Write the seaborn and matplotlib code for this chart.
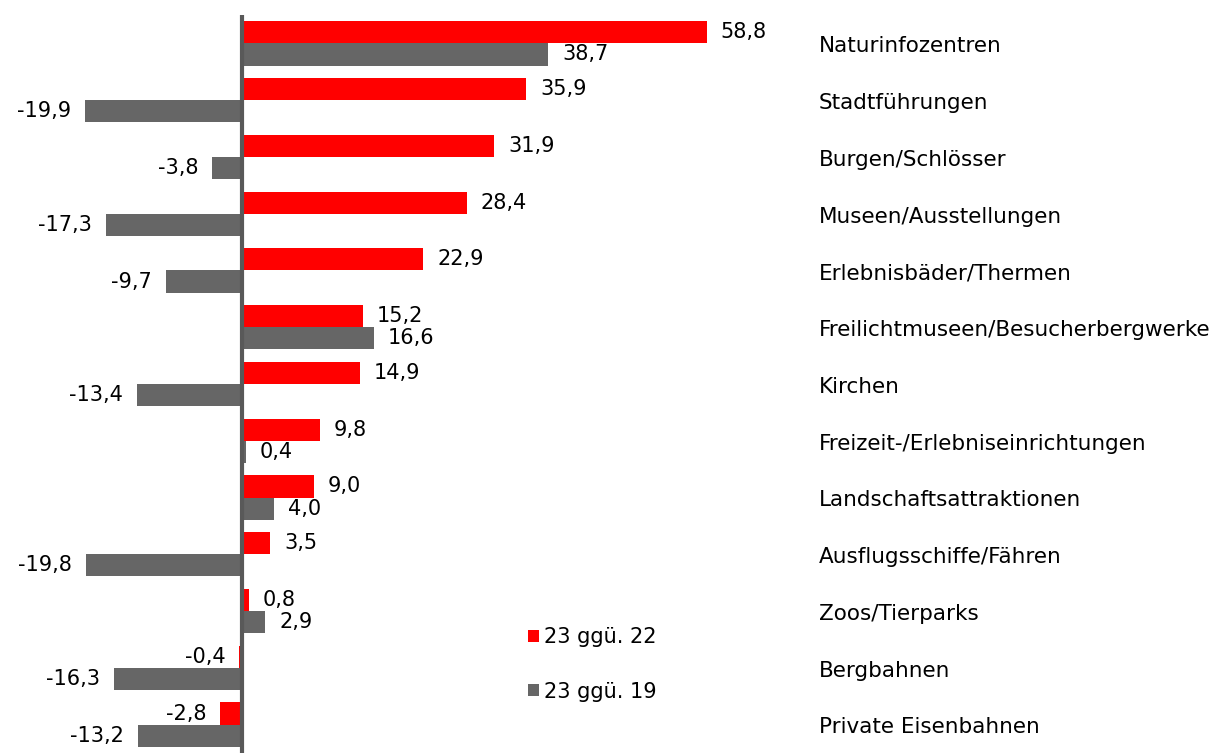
import pandas as pd
import numpy as np
import matplotlib
matplotlib.use('Agg')
import matplotlib.pyplot as plt
import seaborn as sns

# categories (top to bottom)
kategorien = ['Naturinfozentren', 'Stadtführungen', 'Burgen/Schlösser', 'Museen/Ausstellungen',
              'Erlebnisbäder/Thermen', 'Freilichtmuseen/Besucherbergwerke', 'Kirchen',
              'Freizeit-/Erlebniseinrichtungen', 'Landschaftsattraktionen', 'Ausflugsschiffe/Fähren',
              'Zoos/Tierparks', 'Bergbahnen', 'Private Eisenbahnen']

# change in % 
vs22 = [58.8, 35.9, 31.9, 28.4, 22.9, 15.2, 14.9, 9.8, 9.0, 3.5, 0.8, -0.4, -2.8]
vs19 = [38.7, -19.9, -3.8, -17.3, -9.7, 16.6, -13.4, 0.4, 4.0, -19.8, 2.9, -16.3, -13.2]

serien = ['23 ggü. 22', '23 ggü. 19']
farben = ['#FF0000', '#666666']

df = pd.DataFrame({'kat': kategorien * 2,
                   'wert': vs22 + vs19,
                   'serie': [serien[0]] * len(kategorien) + [serien[1]] * len(kategorien)})

sns.set_style('white')
plt.rcParams['font.family'] = ['DejaVu Sans']

fig = plt.figure(figsize=(12.14, 7.53), dpi=100)
ax = fig.add_axes([0, 0, 1, 1 - 15 / 753])

sns.barplot(data=df, y='kat', x='wert', hue='serie', palette=farben, orient='h',
            width=0.78, ax=ax, saturation=1, edgecolor='none')

for c in ax.containers:
    ax.bar_label(c, labels=[f'{v:.1f}'.replace('.', ',') for v in c.datavalues],
                 padding=10, fontsize=15, color='black')

ax.set_xlim(-30.7, 123)
ax.set_ylim(12.5, -0.5)
ax.axvline(0, color='#595959', lw=3)

for i, k in enumerate(kategorien):
    ax.text(73, i + 0.05, k, ha='left', va='center', fontsize=15.5, color='black')

for s in ax.spines.values():
    s.set_visible(False)
ax.set_xticks([])
ax.set_yticks([])
ax.set_xlabel('')
ax.set_ylabel('')

leg = ax.legend(loc='center left', bbox_to_anchor=(0.435, 0.12), frameon=False, fontsize=15,
                handlelength=0.5, handleheight=0.5, handletextpad=0.25, labelspacing=1.65,
                borderpad=0, borderaxespad=0)
for t in leg.get_texts():
    t.set_color('black')

fig.savefig('out.png', dpi=100)
